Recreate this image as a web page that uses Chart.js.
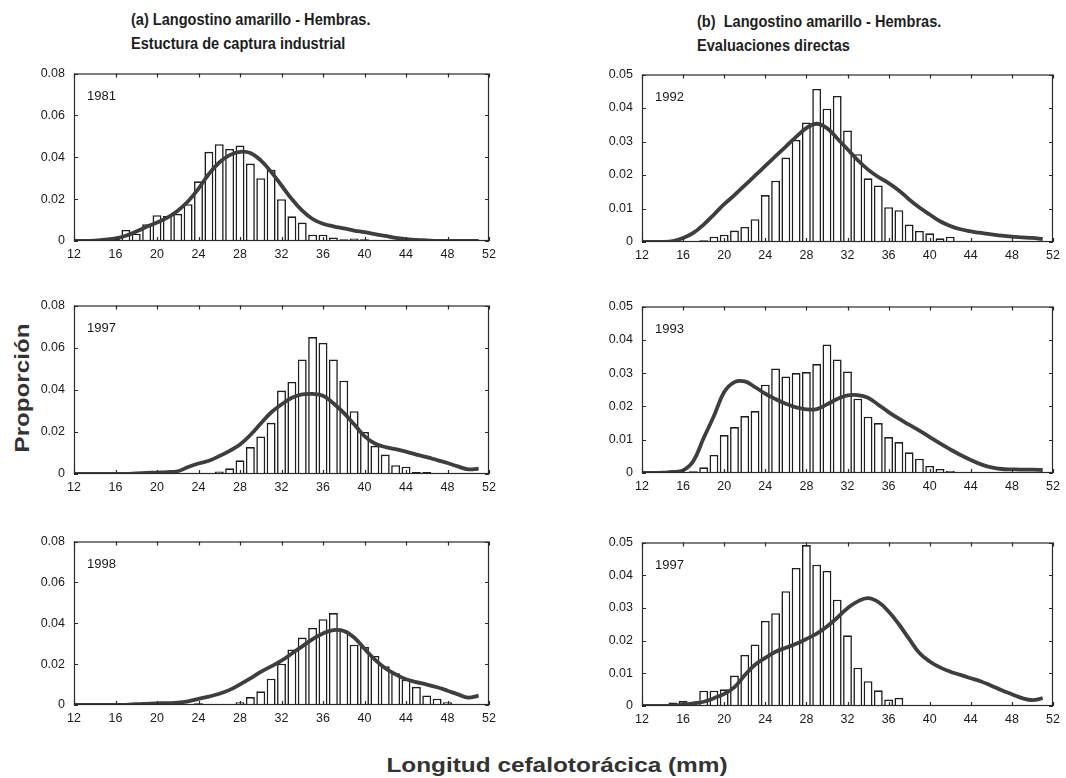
<!DOCTYPE html>
<html>
<head>
<meta charset="utf-8">
<script src="https://cdn.jsdelivr.net/npm/chart.js"></script>
<style>
  body { margin: 0; background: #fff; }
  #page { position: relative; width: 1066px; height: 778px; overflow: hidden; font-family: 'Liberation Sans', Arial, sans-serif; color: #222; }
  .box { position: absolute; }
  .title { position: absolute; font-weight: bold; font-size: 16px; line-height: 24px; white-space: pre; transform-origin: 0 0; transform: scaleX(0.91); color: #1e1e1e; }
  .ylab { position: absolute; left: 22px; top: 388px; font-weight: bold; font-size: 21px; transform: translate(-50%, -50%) rotate(-90deg) scaleX(1.15); white-space: nowrap; color: #333; }
  .xlab { position: absolute; left: 557px; top: 753px; font-weight: bold; font-size: 21px; transform: translateX(-50%) scaleX(1.16); white-space: nowrap; color: #333; }
</style>
</head>
<body>
<div id="page">
  <div class="title" style="left:131px; top:8px;">(a) Langostino amarillo - Hembras.
Estuctura de captura industrial</div>
  <div class="title" style="left:697px; top:10px;">(b)  Langostino amarillo - Hembras.
Evaluaciones directas</div>
  <div class="ylab">Proporción</div>
  <div class="xlab">Longitud cefalotorácica (mm)</div>
</div>
<script>
// size classes (mm), one bar per class
const sizeClasses = [12, 13, 14, 15, 16, 17, 18, 19, 20, 21, 22, 23, 24, 25, 26, 27, 28, 29, 30, 31,
                     32, 33, 34, 35, 36, 37, 38, 39, 40, 41, 42, 43, 44, 45, 46, 47, 48, 49, 50, 51];

// (a) industrial catch
const bars1981 = [0, 0, 0, 0.0008, 0.001, 0.0053, 0.0035, 0.008, 0.0123, 0.012, 0.013, 0.0176, 0.0285, 0.0426, 0.0462, 0.044, 0.0456, 0.037, 0.030, 0.034,
                  0.020, 0.0118, 0.0088, 0.003, 0.003, 0.0017, 0.0008, 0.0012, 0.0008, 0.0003, 0.0002, 0, 0, 0, 0, 0, 0, 0, 0, 0];
const curve1981 = [0, 0, 0.0002, 0.0006, 0.0012, 0.0025, 0.0045, 0.0068, 0.0088, 0.0112, 0.0145, 0.019, 0.025, 0.032, 0.0375, 0.041, 0.0426, 0.042, 0.0385, 0.033,
                   0.0265, 0.02, 0.0145, 0.0105, 0.0082, 0.007, 0.006, 0.005, 0.0042, 0.0033, 0.0024, 0.0015, 0.0009, 0.0005, 0.0003, 0.0001, 0, 0, 0, 0];

const bars1997a = [0, 0, 0, 0, 0, 0, 0, 0, 0, 0, 0, 0, 0.0003, 0.0003, 0.0012, 0.0027, 0.0065, 0.0128, 0.0178, 0.0243,
                   0.0396, 0.0437, 0.0544, 0.065, 0.0622, 0.0544, 0.0443, 0.0298, 0.020, 0.0133, 0.0092, 0.0042, 0.0035, 0.001, 0.001, 0.0003, 0.0003, 0, 0, 0];
const curve1997a = [0, 0, 0, 0, 0, 0.0001, 0.0003, 0.0005, 0.0007, 0.0009, 0.0013, 0.0033, 0.005, 0.0063, 0.0085, 0.011, 0.014, 0.0185, 0.024, 0.0292,
                    0.033, 0.0362, 0.0378, 0.038, 0.0372, 0.0336, 0.029, 0.0236, 0.018, 0.0145, 0.0128, 0.0118, 0.0106, 0.0092, 0.008, 0.0066, 0.0052, 0.0036, 0.0022, 0.0026];

const bars1998 = [0, 0, 0, 0, 0, 0, 0, 0.0002, 0.0003, 0.0003, 0.0004, 0.0005, 0.0008, 0.0003, 0.0003, 0.0003, 0.0014, 0.0039, 0.0067, 0.0129,
                  0.0202, 0.0272, 0.033, 0.0377, 0.042, 0.045, 0.0365, 0.0295, 0.0284, 0.024, 0.019, 0.0155, 0.0124, 0.0089, 0.0047, 0.0031, 0.0014, 0.0005, 0, 0];
const curve1998 = [0, 0, 0, 0, 0, 0.0001, 0.0004, 0.0006, 0.0008, 0.0009, 0.0011, 0.0018, 0.003, 0.0041, 0.0055, 0.0074, 0.0101, 0.013, 0.0162, 0.0189,
                   0.0217, 0.0252, 0.0287, 0.0322, 0.035, 0.0366, 0.0362, 0.033, 0.0275, 0.0222, 0.018, 0.015, 0.0126, 0.0112, 0.01, 0.0087, 0.007, 0.0052, 0.0036, 0.0046];

// (b) direct surveys
const bars1992 = [0, 0, 0, 0, 0, 0.0003, 0.0005, 0.0016, 0.0022, 0.0034, 0.0045, 0.0068, 0.014, 0.0183, 0.0252, 0.0305, 0.0357, 0.0457, 0.0398, 0.0436,
                  0.0333, 0.0262, 0.019, 0.0169, 0.0104, 0.0095, 0.0052, 0.0033, 0.0026, 0.0011, 0.0016, 0.0003, 0, 0, 0, 0, 0, 0, 0, 0];
const curve1992 = [0, 0, 0, 0.0003, 0.0012, 0.0027, 0.0052, 0.0082, 0.0113, 0.014, 0.0169, 0.0198, 0.0227, 0.0256, 0.0285, 0.0314, 0.034, 0.0353, 0.034, 0.0309,
                   0.0277, 0.0244, 0.0216, 0.0194, 0.0176, 0.0154, 0.0127, 0.0103, 0.0082, 0.0062, 0.0048, 0.0038, 0.0032, 0.0027, 0.0023, 0.0019, 0.0016, 0.0014, 0.0012, 0.0009];

const bars1993 = [0, 0, 0, 0, 0, 0.0005, 0.0017, 0.0054, 0.0114, 0.0138, 0.0171, 0.0186, 0.0265, 0.0314, 0.029, 0.030, 0.0303, 0.0327, 0.0386, 0.0341,
                  0.0305, 0.0223, 0.0169, 0.015, 0.0108, 0.0093, 0.0062, 0.0043, 0.0021, 0.0012, 0.0007, 0, 0, 0, 0, 0, 0, 0, 0, 0];
const curve1993 = [0, 0, 0.0001, 0.0003, 0.0008, 0.0036, 0.0105, 0.0171, 0.0243, 0.0273, 0.0275, 0.0258, 0.0238, 0.0222, 0.0208, 0.0197, 0.0191, 0.0192, 0.0206, 0.0222,
                   0.0233, 0.0234, 0.0226, 0.0205, 0.0183, 0.0163, 0.0145, 0.0127, 0.0108, 0.0089, 0.0071, 0.0054, 0.0039, 0.0026, 0.0017, 0.0012, 0.0011, 0.001, 0.001, 0.0009];

const bars1997b = [0, 0.0002, 0.0002, 0.0011, 0.0015, 0.0005, 0.0047, 0.0047, 0.0051, 0.0093, 0.0156, 0.0188, 0.026, 0.0284, 0.0351, 0.0422, 0.0492, 0.0432, 0.0413, 0.0325,
                   0.0216, 0.0117, 0.0076, 0.0048, 0.002, 0.0025, 0.0003, 0.0002, 0, 0, 0, 0, 0, 0, 0, 0, 0, 0, 0, 0];
const curve1997b = [0, 0, 0, 0.0001, 0.0004, 0.0008, 0.0013, 0.0024, 0.0037, 0.0058, 0.0094, 0.0126, 0.0147, 0.0166, 0.0178, 0.019, 0.0205, 0.0221, 0.0243, 0.027,
                    0.0299, 0.032, 0.033, 0.0318, 0.0289, 0.025, 0.0205, 0.0162, 0.0136, 0.0118, 0.0105, 0.0095, 0.0085, 0.0075, 0.0062, 0.0048, 0.0036, 0.0024, 0.0018, 0.0024];

const xTicksMin = 12, xTicksMax = 52, xTickStep = 4;

// panel layout: plot-area box in page pixels
const panels = [
  { year: '1981', bars: bars1981, curve: curve1981, yMax: 0.08, yStep: 0.02, left: 74, top: 65, w: 415, h: 176 },
  { year: '1997', bars: bars1997a, curve: curve1997a, yMax: 0.08, yStep: 0.02, left: 74, top: 297, w: 415, h: 177 },
  { year: '1998', bars: bars1998, curve: curve1998, yMax: 0.08, yStep: 0.02, left: 74, top: 533, w: 415, h: 172 },
  { year: '1992', bars: bars1992, curve: curve1992, yMax: 0.05, yStep: 0.01, left: 642, top: 66, w: 411, h: 176 },
  { year: '1993', bars: bars1993, curve: curve1993, yMax: 0.05, yStep: 0.01, left: 642, top: 298, w: 411, h: 175 },
  { year: '1997', bars: bars1997b, curve: curve1997b, yMax: 0.05, yStep: 0.01, left: 642, top: 534, w: 411, h: 172 }
];

const Y_AXIS_W = 50, PAD_TOP = 8, PAD_RIGHT = 14, X_AXIS_H = 22;

Chart.defaults.font.family = "'Liberation Sans', Arial, sans-serif";
Chart.defaults.font.size = 12.5;
Chart.defaults.color = '#1a1a1a';

// box around the plot with inward ticks on every side, plus the year tag
const framePlugin = {
  id: 'frame',
  afterDatasetsDraw(chart, args, opts) {
    const { ctx, chartArea: a, scales: { x, y } } = chart;
    ctx.save();
    ctx.strokeStyle = '#2a2a2a';
    ctx.lineWidth = 1.2;
    ctx.strokeRect(a.left + 0.5, a.top + 0.5, a.width - 1, a.height - 1);
    ctx.beginPath();
    x.ticks.forEach(t => {
      const px = Math.round(x.getPixelForValue(t.value)) + 0.5;
      ctx.moveTo(px, a.bottom); ctx.lineTo(px, a.bottom - 4);
      ctx.moveTo(px, a.top); ctx.lineTo(px, a.top + 4);
    });
    y.ticks.forEach(t => {
      const py = Math.round(y.getPixelForValue(t.value)) + 0.5;
      ctx.moveTo(a.left, py); ctx.lineTo(a.left + 4, py);
      ctx.moveTo(a.right, py); ctx.lineTo(a.right - 4, py);
    });
    ctx.stroke();
    ctx.font = "13px 'Liberation Sans', Arial, sans-serif";
    ctx.fillStyle = '#1a1a1a';
    ctx.fillText(opts.year, a.left + 13, a.top + 26);
    ctx.restore();
  }
};

const page = document.getElementById('page');

panels.forEach(p => {
  const box = document.createElement('div');
  box.className = 'box';
  const cw = Y_AXIS_W + p.w + PAD_RIGHT;
  const ch = PAD_TOP + p.h + X_AXIS_H;
  box.style.left = (p.left - Y_AXIS_W) + 'px';
  box.style.top = (p.top - PAD_TOP) + 'px';
  box.style.width = cw + 'px';
  box.style.height = ch + 'px';
  const canvas = document.createElement('canvas');
  box.appendChild(canvas);
  page.appendChild(box);

  new Chart(canvas.getContext('2d'), {
    type: 'bar',
    data: {
      datasets: [
        {
          type: 'line',
          data: sizeClasses.map((x, i) => ({ x: x, y: p.curve[i] })),
          borderColor: '#3e3e3e',
          borderWidth: 3.8,
          pointRadius: 0,
          tension: 0.4,
          fill: false,
          order: 0
        },
        {
          data: sizeClasses.map((x, i) => ({ x: x, y: p.bars[i] })),
          backgroundColor: '#ffffff',
          borderColor: '#1e1e1e',
          borderWidth: 1.6,
          borderSkipped: 'bottom',
          barPercentage: 1,
          categoryPercentage: 0.86,
          order: 1
        }
      ]
    },
    options: {
      responsive: true,
      maintainAspectRatio: false,
      animation: false,
      layout: { padding: { top: PAD_TOP, right: PAD_RIGHT, left: 0, bottom: 0 } },
      plugins: {
        legend: { display: false },
        tooltip: { enabled: false },
        frame: { year: p.year }
      },
      scales: {
        x: {
          type: 'linear',
          min: xTicksMin,
          max: xTicksMax,
          offset: false,
          grid: { display: false, drawTicks: false, offset: false },
          border: { display: false },
          ticks: { stepSize: xTickStep, padding: 6, maxRotation: 0 },
          afterFit: s => { s.height = X_AXIS_H; }
        },
        y: {
          min: 0,
          max: p.yMax,
          grid: { display: false, drawTicks: false },
          border: { display: false },
          ticks: {
            stepSize: p.yStep,
            padding: 9,
            callback: v => v === 0 ? '0' : v.toFixed(2)
          },
          afterFit: s => { s.width = Y_AXIS_W; }
        }
      }
    },
    plugins: [framePlugin]
  });
});
</script>
</body>
</html>
